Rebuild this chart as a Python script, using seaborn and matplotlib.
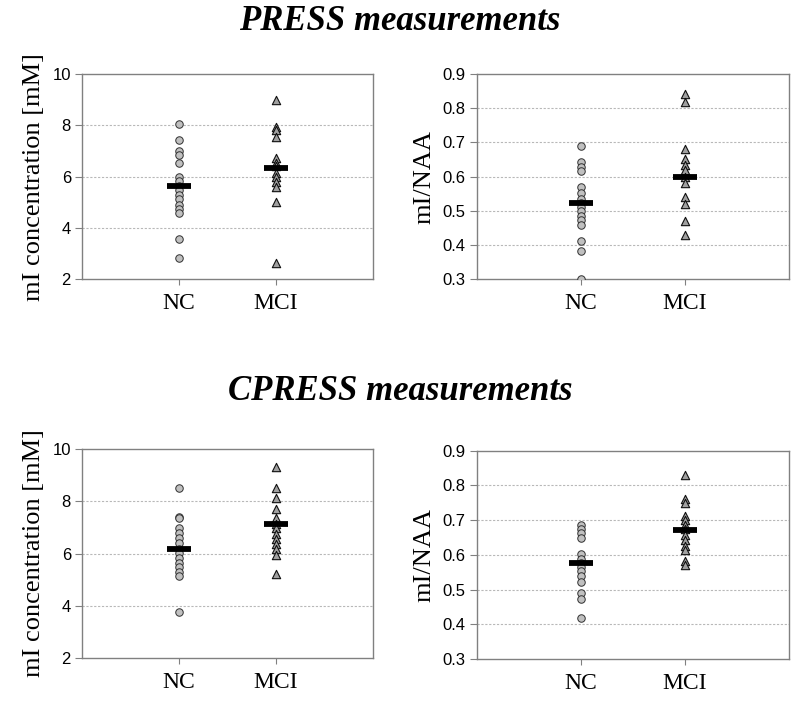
import matplotlib
matplotlib.use("Agg")
import matplotlib.pyplot as plt
import seaborn as sns
import pandas as pd

sns.set_style("white")
plt.rcParams['font.family'] = ['Liberation Sans', 'DejaVu Sans']
plt.rcParams['text.color'] = 'black'
plt.rcParams['axes.labelcolor'] = 'black'
plt.rcParams['xtick.color'] = 'black'
plt.rcParams['ytick.color'] = 'black'

groups = ["NC", "MCI"]

press_mi_nc = [8.05, 7.41, 6.98, 6.85, 6.52, 5.99, 5.83, 5.63, 5.46, 5.28, 5.11, 4.91, 4.75, 4.58, 3.58, 2.82]
press_mi_mci = [8.99, 7.93, 7.83, 7.54, 6.71, 6.55, 6.40, 6.16, 6.00, 5.80, 5.60, 5.02, 2.65]
press_mi_mean = [5.63, 6.33]

press_ratio_nc = [0.69, 0.643, 0.629, 0.617, 0.571, 0.553, 0.536, 0.524, 0.512, 0.50, 0.485, 0.472, 0.46, 0.412, 0.384, 0.30]
press_ratio_mci = [0.842, 0.818, 0.68, 0.651, 0.633, 0.62, 0.60, 0.58, 0.54, 0.519, 0.47, 0.43]
press_ratio_mean = [0.524, 0.60]

cpress_mi_nc = [8.5, 7.41, 7.37, 6.96, 6.8, 6.6, 6.41, 6.19, 6.03, 5.83, 5.64, 5.47, 5.28, 5.13, 3.76]
cpress_mi_mci = [9.32, 8.53, 8.14, 7.69, 7.37, 7.15, 6.99, 6.73, 6.54, 6.35, 6.18, 5.96, 5.23]
cpress_mi_mean = [6.17, 7.15]

cpress_ratio_nc = [0.686, 0.676, 0.662, 0.65, 0.602, 0.589, 0.576, 0.566, 0.554, 0.54, 0.522, 0.492, 0.472, 0.42]
cpress_ratio_mci = [0.83, 0.762, 0.75, 0.712, 0.70, 0.686, 0.674, 0.657, 0.642, 0.626, 0.614, 0.583, 0.57]
cpress_ratio_mean = [0.576, 0.672]

titles = ["PRESS measurements", "CPRESS measurements"]
ylabels = ["mI concentration [mM]", "mI/NAA"]
mi_ticks = [2, 4, 6, 8, 10]
ratio_ticks = [0.3, 0.4, 0.5, 0.6, 0.7, 0.8, 0.9]

fig = plt.figure(figsize=(8, 7.06), dpi=100)

positions = [
    [0.1025, 0.6044, 0.3638, 0.2908],
    [0.5959, 0.6044, 0.3900, 0.2908],
    [0.1025, 0.0684, 0.3638, 0.2952],
    [0.5959, 0.0662, 0.3900, 0.2955],
]

panels = [
    (press_mi_nc, press_mi_mci, press_mi_mean, ylabels[0], mi_ticks, "{:g}"),
    (press_ratio_nc, press_ratio_mci, press_ratio_mean, ylabels[1], ratio_ticks, "{:.1f}"),
    (cpress_mi_nc, cpress_mi_mci, cpress_mi_mean, ylabels[0], mi_ticks, "{:g}"),
    (cpress_ratio_nc, cpress_ratio_mci, cpress_ratio_mean, ylabels[1], ratio_ticks, "{:.1f}"),
]

for pos, (nc, mci, means, ylab, ticks, fmt) in zip(positions, panels):
    ax = fig.add_axes(pos)
    df = pd.DataFrame({"group": ["NC"] * len(nc) + ["MCI"] * len(mci),
                       "value": list(nc) + list(mci)})
    ax.set_ylim(ticks[0], ticks[-1])
    ax.set_yticks(ticks)
    ax.set_yticklabels([fmt.format(t) for t in ticks], fontsize=12,
                       family=['Liberation Sans Narrow', 'Liberation Sans'])
    for t in ticks[1:-1]:
        ax.axhline(t, color="#b8b8b8", lw=0.8, ls=(0, (2, 1.5)), zorder=0)
    sns.stripplot(data=df[df.group == "NC"], x="group", y="value", order=groups,
                  jitter=False, marker="o", size=5.4, color="#c0c0c0",
                  edgecolor="#303030", linewidth=0.7, ax=ax, zorder=3)
    sns.stripplot(data=df[df.group == "MCI"], x="group", y="value", order=groups,
                  jitter=False, marker="^", size=6.0, color="#a0a0a0",
                  edgecolor="#101010", linewidth=0.8, ax=ax, zorder=3)
    ax.plot([groups.index(g) for g in groups], means, ls="none", marker="_",
            ms=17.5, mew=4.2, color="black", zorder=4)
    ax.set_xlim(-1, 2)
    ax.set_ylim(ticks[0], ticks[-1])
    ax.set_xlabel("")
    ax.set_ylabel(ylab, family=['Liberation Serif'], fontsize=19, labelpad=5)
    ax.set_xticks([0, 1])
    ax.set_xticklabels(groups, family=['Liberation Serif'], fontsize=17)
    for s in ax.spines.values():
        s.set_color("#808080")
        s.set_linewidth(1.0)
        s.set_visible(True)
    ax.tick_params(axis="y", length=5, width=0.8, color="#808080", pad=3, direction="out", left=True)
    ax.tick_params(axis="x", length=4, width=0.8, color="#808080", pad=6, direction="out", bottom=True)
    ax.grid(False)

fig.text(0.5, 1 - 21 / 706, titles[0], ha="center", va="center", fontsize=25,
         family=['Liberation Serif'], weight="bold", style="italic")
fig.text(0.5, 1 - 392 / 706, titles[1], ha="center", va="center", fontsize=25,
         family=['Liberation Serif'], weight="bold", style="italic")

fig.savefig("out.png", dpi=100)
